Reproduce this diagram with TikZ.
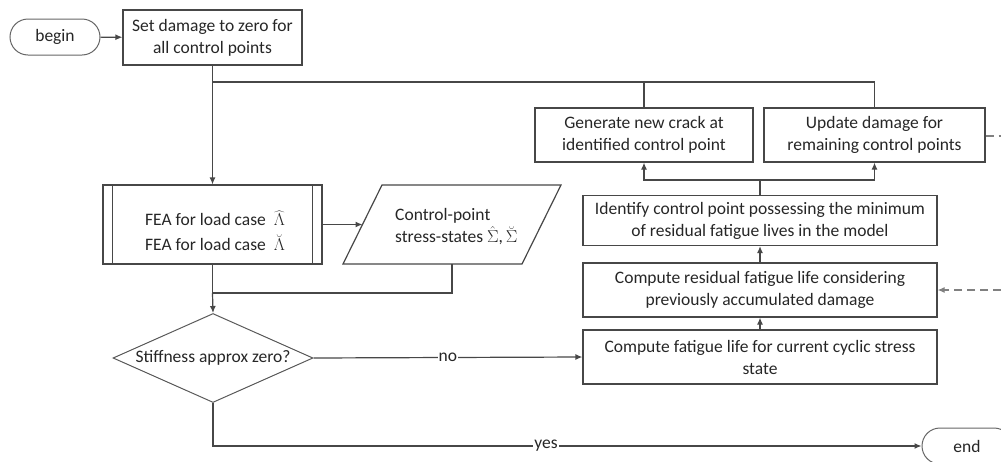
\documentclass[tikz,border=0pt]{standalone}
\usepackage{fontspec}
\setmainfont{Carlito}
\usetikzlibrary{shapes.geometric,shapes.misc,arrows.meta,calc}
\begin{document}
\begin{tikzpicture}[x=1pt,y=-1pt,
  font=\fontsize{17.5}{22}\selectfont,
  line/.style={draw=black!72, line width=1.2pt},
  arr/.style={line, -{Latex[length=7pt,width=6pt]}},
  dashline/.style={draw=black!50, line width=1.2pt, dash pattern=on 8pt off 5pt},
  box/.style={draw=black!72, line width=1.2pt, align=center, text=black!85, inner sep=0pt},
  term/.style={rounded rectangle, draw=black!60, line width=1pt, minimum width=90pt, minimum height=36pt, text=black!85, inner sep=0pt},
  dec/.style={diamond, draw=black!65, line width=1pt, aspect=2.247, minimum width=200pt, minimum height=89pt, inner sep=0pt, text=black!85},
  lab/.style={fill=white, inner sep=1pt, text=black!85},
]
\useasboundingbox (0,0) rectangle (1001,461);
\clip (0,0) rectangle (1001,461);

% nodes
\node[term] (begin) at (55,37) {begin};
\node[box, minimum width=179pt, minimum height=55pt] (set) at (212.5,37.5) {Set damage to zero for\\all control points};
\node[box, minimum width=219pt, minimum height=79pt] (fea) at (212.5,224.5) {};
\node[anchor=west, align=left, text=black!85, inner sep=0pt] (featext) at (145,231) {FEA for load case\ \ $\widehat{\Lambda}$\\[3pt]FEA for load case\ \ $\breve{\Lambda}$};
\draw[line] ($(fea.north west)+(10,0)$) -- ($(fea.south west)+(10,0)$);
\draw[line] ($(fea.north east)+(-10,0)$) -- ($(fea.south east)+(-10,0)$);

\coordinate (cpsBL) at (343,264);
\coordinate (cpsBR) at (522,264);
\coordinate (cpsTR) at (561,185);
\coordinate (cpsTL) at (382,185);
\draw[line] (cpsBL) -- (cpsBR) -- (cpsTR) -- (cpsTL) -- cycle;
\coordinate (cpsin) at (362.5,224.5);
\coordinate (cpsbot) at (452,264);
\node[anchor=west, align=left, text=black!85, inner sep=0pt] (cps) at (395,227) {Control-point\\stress-states $\hat{\Sigma}$,\,$\breve{\Sigma}$};

\node[dec] (dia) at (213,358) {Stiffness approx zero?};

\node[box, minimum width=218pt, minimum height=54pt] (gen) at (644,135) {Generate new crack at\\identified control point};
\node[box, minimum width=221pt, minimum height=54pt] (upd) at (874.5,135) {Update damage for\\remaining control points};
\node[box, minimum width=354pt, minimum height=50pt] (ident) at (760,220.5) {Identify control point possessing the minimum\\of residual fatigue lives in the model};
\node[box, minimum width=354pt, minimum height=54pt] (resid) at (760,290) {Compute residual fatigue life considering\\previously accumulated damage};
\node[box, minimum width=354pt, minimum height=54pt] (fat) at (760,357) {Compute fatigue life for current cyclic stress\\state};
\node[term] (end) at (967,446) {end};

% junctions
\coordinate (j1) at (212.5,82);
\coordinate (j2) at (212.5,293);
\coordinate (j3) at (760,180);
\coordinate (rA) at (1001,136);
\coordinate (rB) at (1001,290);

% connectors
\draw[arr] (begin) -- (set);
\draw[line] (set.south) -- (j1);
\draw[arr] (j1) -- (fea.north);
\draw[line] (upd.north) |- (j1);
\draw[line] (gen.north) -- (gen.north |- j1);
\draw[arr] (fea.east) -- (cpsin);
\draw[line] (fea.south) -- (j2);
\draw[line] (cpsbot) |- (j2);
\draw[arr] (j2) -- (dia.north);
\draw[arr] (dia.east) -- node[lab] {no} (fat.west);
\draw[arr] (dia.south) |- node[lab, pos=0.735] {yes} (end.west);
\draw[arr] (fat.north) -- (resid.south);
\draw[arr] (resid.north) -- (ident.south);
\draw[line] (ident.north) -- (j3);
\draw[arr] (j3) -| (gen.south);
\draw[arr] (j3) -| (upd.south);
\draw[dashline] (upd.east |- rA) -- (rA);
\draw[dashline, -{Latex[length=7pt,width=6pt]}] (rB) -- (resid.east);
\end{tikzpicture}
\end{document}
